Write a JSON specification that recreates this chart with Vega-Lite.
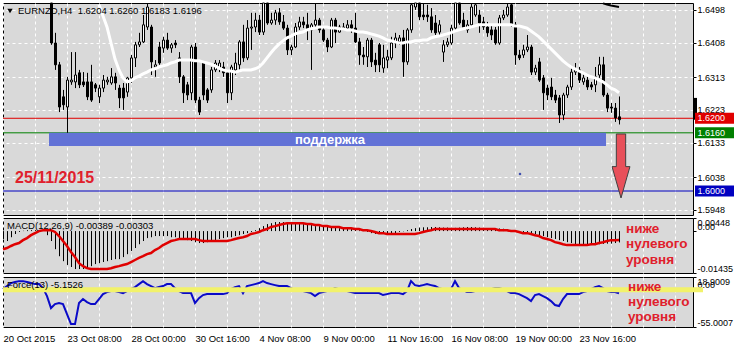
{
"$schema": "https://vega.github.io/schema/vega-lite/v6.json",
"background": "#FFFFFF",
"padding": {"left": -3, "top": -2, "right": 0, "bottom": 0},
"spacing": 1,
"config": {
  "view": {"stroke": "#000000", "strokeWidth": 1, "fill": "#D9D9D9"},
  "text": {"font": "Liberation Sans"}
},
"datasets": {
  "lv": [
    {"label": "1.6200", "price": 1.62},
    {"label": "1.6160", "price": 1.616},
    {"label": "1.6000", "price": 1.6}
  ],
  "d": [
{"i":0,"o":1.6610,"h":1.6650,"l":1.6590,"c":1.6630,"macd":-0.0027,"sig":-0.0062,"force":1.0},
{"i":1,"o":1.6630,"h":1.6660,"l":1.6600,"c":1.6615,"macd":-0.0034,"sig":-0.0058,"force":5.5},
{"i":2,"o":1.6615,"h":1.6690,"l":1.6605,"c":1.6675,"macd":-0.0021,"sig":-0.0051,"force":9.9},
{"i":3,"o":1.6675,"h":1.6700,"l":1.6640,"c":1.6655,"macd":-0.0010,"sig":-0.0045,"force":11.4},
{"i":4,"o":1.6655,"h":1.6710,"l":1.6640,"c":1.6690,"macd":-0.0003,"sig":-0.0041,"force":12.8},
{"i":5,"o":1.6690,"h":1.6720,"l":1.6660,"c":1.6680,"macd":0.0001,"sig":-0.0031,"force":12.8},
{"i":6,"o":1.6680,"h":1.6700,"l":1.6630,"c":1.6645,"macd":0.0003,"sig":-0.0024,"force":11.4},
{"i":7,"o":1.6645,"h":1.6680,"l":1.6620,"c":1.6660,"macd":0.0003,"sig":-0.0014,"force":9.9},
{"i":8,"o":1.6660,"h":1.6690,"l":1.6610,"c":1.6625,"macd":0.0003,"sig":-0.0007,"force":8.4},
{"i":9,"o":1.6625,"h":1.6650,"l":1.6590,"c":1.6610,"macd":0.0003,"sig":0.0000,"force":8.4},
{"i":10,"o":1.6610,"h":1.6630,"l":1.6560,"c":1.6575,"macd":0.0000,"sig":0.0003,"force":2.5},
{"i":11,"o":1.6575,"h":1.6600,"l":1.6540,"c":1.6560,"macd":-0.0014,"sig":0.0003,"force":-9.3},
{"i":12,"o":1.6553,"h":1.6558,"l":1.6402,"c":1.6407,"macd":-0.0034,"sig":0.0003,"force":-27.0},
{"i":13,"o":1.6407,"h":1.6435,"l":1.6333,"c":1.6347,"macd":-0.0062,"sig":-0.0003,"force":-21.1},
{"i":14,"o":1.6347,"h":1.6355,"l":1.6217,"c":1.6231,"macd":-0.0086,"sig":-0.0017,"force":-19.6},
{"i":15,"o":1.6259,"h":1.6278,"l":1.6223,"c":1.6237,"macd":-0.0103,"sig":-0.0034,"force":-21.1},
{"i":16,"o":1.6231,"h":1.6314,"l":1.6160,"c":1.6305,"macd":-0.0116,"sig":-0.0051,"force":-35.9},
{"i":17,"o":1.6300,"h":1.6382,"l":1.6292,"c":1.6305,"macd":-0.0123,"sig":-0.0072,"force":-50.7},
{"i":18,"o":1.6300,"h":1.6382,"l":1.6283,"c":1.6319,"macd":-0.0130,"sig":-0.0089,"force":-50.7},
{"i":19,"o":1.6325,"h":1.6333,"l":1.6283,"c":1.6292,"macd":-0.0130,"sig":-0.0110,"force":-19.6},
{"i":20,"o":1.6300,"h":1.6327,"l":1.6286,"c":1.6292,"ma":1.6608,"macd":-0.0130,"sig":-0.0120,"force":-13.7},
{"i":21,"o":1.6300,"h":1.6325,"l":1.6250,"c":1.6259,"ma":1.6580,"macd":-0.0127,"sig":-0.0127,"force":-18.2},
{"i":22,"o":1.6300,"h":1.6347,"l":1.6245,"c":1.6250,"ma":1.6558,"macd":-0.0120,"sig":-0.0130,"force":-21.1},
{"i":23,"o":1.6292,"h":1.6297,"l":1.6272,"c":1.6283,"ma":1.6539,"macd":-0.0113,"sig":-0.0130,"force":-21.1},
{"i":24,"o":1.6259,"h":1.6292,"l":1.6242,"c":1.6283,"ma":1.6512,"macd":-0.0110,"sig":-0.0130,"force":-13.7},
{"i":25,"o":1.6283,"h":1.6319,"l":1.6272,"c":1.6305,"ma":1.6481,"macd":-0.0106,"sig":-0.0130,"force":-6.4},
{"i":26,"o":1.6300,"h":1.6314,"l":1.6292,"c":1.6305,"ma":1.6451,"macd":-0.0103,"sig":-0.0130,"force":-3.4},
{"i":27,"o":1.6297,"h":1.6338,"l":1.6292,"c":1.6314,"ma":1.6407,"macd":-0.0099,"sig":-0.0127,"force":-1.9},
{"i":28,"o":1.6314,"h":1.6325,"l":1.6278,"c":1.6297,"ma":1.6363,"macd":-0.0096,"sig":-0.0123,"force":-1.9},
{"i":29,"o":1.6283,"h":1.6292,"l":1.6228,"c":1.6256,"ma":1.6333,"macd":-0.0096,"sig":-0.0120,"force":-3.4},
{"i":30,"o":1.6283,"h":1.6297,"l":1.6223,"c":1.6256,"ma":1.6311,"macd":-0.0089,"sig":-0.0116,"force":-4.9},
{"i":31,"o":1.6272,"h":1.6314,"l":1.6259,"c":1.6311,"ma":1.6300,"macd":-0.0079,"sig":-0.0113,"force":-1.9},
{"i":32,"o":1.6311,"h":1.6374,"l":1.6297,"c":1.6366,"ma":1.6303,"macd":-0.0068,"sig":-0.0106,"force":1.0},
{"i":33,"o":1.6366,"h":1.6410,"l":1.6341,"c":1.6402,"ma":1.6311,"macd":-0.0058,"sig":-0.0099,"force":4.0},
{"i":34,"o":1.6402,"h":1.6435,"l":1.6396,"c":1.6410,"ma":1.6316,"macd":-0.0045,"sig":-0.0092,"force":8.4},
{"i":35,"o":1.6410,"h":1.6484,"l":1.6407,"c":1.6457,"ma":1.6322,"macd":-0.0034,"sig":-0.0086,"force":12.8},
{"i":36,"o":1.6451,"h":1.6525,"l":1.6443,"c":1.6506,"ma":1.6327,"macd":-0.0024,"sig":-0.0079,"force":8.4},
{"i":37,"o":1.6451,"h":1.6457,"l":1.6319,"c":1.6355,"ma":1.6333,"macd":-0.0021,"sig":-0.0075,"force":5.5},
{"i":38,"o":1.6341,"h":1.6360,"l":1.6314,"c":1.6347,"ma":1.6336,"macd":-0.0017,"sig":-0.0065,"force":2.5},
{"i":39,"o":1.6396,"h":1.6410,"l":1.6347,"c":1.6352,"ma":1.6341,"macd":-0.0017,"sig":-0.0058,"force":4.0},
{"i":40,"o":1.6393,"h":1.6424,"l":1.6380,"c":1.6415,"ma":1.6344,"macd":-0.0017,"sig":-0.0048,"force":5.5},
{"i":41,"o":1.6415,"h":1.6435,"l":1.6388,"c":1.6393,"ma":1.6347,"macd":-0.0017,"sig":-0.0041,"force":8.4},
{"i":42,"o":1.6393,"h":1.6407,"l":1.6380,"c":1.6402,"ma":1.6352,"macd":-0.0021,"sig":-0.0034,"force":8.4},
{"i":43,"o":1.6407,"h":1.6415,"l":1.6393,"c":1.6402,"ma":1.6355,"macd":-0.0021,"sig":-0.0031,"force":2.5},
{"i":44,"o":1.6366,"h":1.6382,"l":1.6297,"c":1.6314,"ma":1.6360,"macd":-0.0024,"sig":-0.0027,"force":-1.9},
{"i":45,"o":1.6314,"h":1.6319,"l":1.6242,"c":1.6270,"ma":1.6360,"macd":-0.0027,"sig":-0.0027,"force":-4.9},
{"i":46,"o":1.6292,"h":1.6300,"l":1.6250,"c":1.6264,"ma":1.6360,"macd":-0.0031,"sig":-0.0027,"force":-4.9},
{"i":47,"o":1.6270,"h":1.6402,"l":1.6250,"c":1.6396,"ma":1.6360,"macd":-0.0034,"sig":-0.0027,"force":-4.9},
{"i":48,"o":1.6396,"h":1.6407,"l":1.6242,"c":1.6250,"ma":1.6358,"macd":-0.0038,"sig":-0.0027,"force":-19.6},
{"i":49,"o":1.6250,"h":1.6259,"l":1.6209,"c":1.6217,"ma":1.6358,"macd":-0.0041,"sig":-0.0031,"force":-12.3},
{"i":50,"o":1.6352,"h":1.6355,"l":1.6250,"c":1.6264,"ma":1.6355,"macd":-0.0041,"sig":-0.0034,"force":-7.8},
{"i":51,"o":1.6278,"h":1.6283,"l":1.6242,"c":1.6250,"ma":1.6352,"macd":-0.0038,"sig":-0.0034,"force":-6.4},
{"i":52,"o":1.6278,"h":1.6341,"l":1.6270,"c":1.6333,"ma":1.6349,"macd":-0.0034,"sig":-0.0034,"force":-6.4},
{"i":53,"o":1.6333,"h":1.6360,"l":1.6327,"c":1.6352,"ma":1.6344,"macd":-0.0031,"sig":-0.0034,"force":-6.4},
{"i":54,"o":1.6338,"h":1.6360,"l":1.6327,"c":1.6352,"ma":1.6338,"macd":-0.0027,"sig":-0.0034,"force":-6.4},
{"i":55,"o":1.6341,"h":1.6355,"l":1.6314,"c":1.6325,"ma":1.6333,"macd":-0.0024,"sig":-0.0034,"force":-6.4},
{"i":56,"o":1.6325,"h":1.6333,"l":1.6242,"c":1.6270,"ma":1.6330,"macd":-0.0021,"sig":-0.0034,"force":-4.9},
{"i":57,"o":1.6270,"h":1.6347,"l":1.6250,"c":1.6341,"ma":1.6330,"macd":-0.0021,"sig":-0.0031,"force":1.0},
{"i":58,"o":1.6333,"h":1.6380,"l":1.6319,"c":1.6352,"ma":1.6327,"macd":-0.0017,"sig":-0.0027,"force":4.0},
{"i":59,"o":1.6347,"h":1.6415,"l":1.6327,"c":1.6410,"ma":1.6330,"macd":-0.0014,"sig":-0.0024,"force":5.5},
{"i":60,"o":1.6410,"h":1.6457,"l":1.6355,"c":1.6366,"ma":1.6333,"macd":-0.0010,"sig":-0.0021,"force":-4.9},
{"i":61,"o":1.6366,"h":1.6470,"l":1.6360,"c":1.6448,"ma":1.6333,"macd":-0.0007,"sig":-0.0017,"force":5.5},
{"i":62,"o":1.6448,"h":1.6490,"l":1.6388,"c":1.6451,"ma":1.6333,"macd":-0.0003,"sig":-0.0010,"force":6.9},
{"i":63,"o":1.6451,"h":1.6490,"l":1.6437,"c":1.6470,"ma":1.6336,"macd":0.0003,"sig":-0.0007,"force":8.4},
{"i":64,"o":1.6470,"h":1.6484,"l":1.6429,"c":1.6437,"ma":1.6341,"macd":0.0010,"sig":-0.0003,"force":9.9},
{"i":65,"o":1.6437,"h":1.6553,"l":1.6429,"c":1.6539,"ma":1.6352,"macd":0.0017,"sig":0.0003,"force":12.8},
{"i":66,"o":1.6539,"h":1.6553,"l":1.6457,"c":1.6462,"ma":1.6366,"macd":0.0024,"sig":0.0007,"force":9.9},
{"i":67,"o":1.6462,"h":1.6490,"l":1.6457,"c":1.6470,"ma":1.6380,"macd":0.0027,"sig":0.0014,"force":8.4},
{"i":68,"o":1.6470,"h":1.6498,"l":1.6457,"c":1.6490,"ma":1.6393,"macd":0.0031,"sig":0.0017,"force":6.9},
{"i":69,"o":1.6490,"h":1.6503,"l":1.6457,"c":1.6465,"ma":1.6404,"macd":0.0031,"sig":0.0021,"force":5.5},
{"i":70,"o":1.6465,"h":1.6484,"l":1.6443,"c":1.6448,"ma":1.6413,"macd":0.0031,"sig":0.0024,"force":5.5},
{"i":71,"o":1.6448,"h":1.6457,"l":1.6374,"c":1.6388,"ma":1.6421,"macd":0.0027,"sig":0.0027,"force":5.5},
{"i":72,"o":1.6388,"h":1.6402,"l":1.6374,"c":1.6396,"ma":1.6426,"macd":0.0027,"sig":0.0027,"force":2.5},
{"i":73,"o":1.6396,"h":1.6462,"l":1.6393,"c":1.6451,"ma":1.6432,"macd":0.0027,"sig":0.0027,"force":-0.4},
{"i":74,"o":1.6451,"h":1.6479,"l":1.6443,"c":1.6465,"ma":1.6435,"macd":0.0024,"sig":0.0027,"force":-1.9},
{"i":75,"o":1.6465,"h":1.6479,"l":1.6448,"c":1.6457,"ma":1.6437,"macd":0.0024,"sig":0.0027,"force":-1.9},
{"i":76,"o":1.6457,"h":1.6490,"l":1.6415,"c":1.6443,"ma":1.6443,"macd":0.0021,"sig":0.0024,"force":-3.4},
{"i":77,"o":1.6443,"h":1.6462,"l":1.6333,"c":1.6457,"ma":1.6446,"macd":0.0021,"sig":0.0024,"force":-4.9},
{"i":78,"o":1.6457,"h":1.6525,"l":1.6451,"c":1.6470,"ma":1.6448,"macd":0.0017,"sig":0.0021,"force":-9.3},
{"i":79,"o":1.6470,"h":1.6476,"l":1.6435,"c":1.6443,"ma":1.6451,"macd":0.0017,"sig":0.0021,"force":-4.9},
{"i":80,"o":1.6443,"h":1.6451,"l":1.6410,"c":1.6415,"ma":1.6451,"macd":0.0017,"sig":0.0017,"force":-3.4},
{"i":81,"o":1.6415,"h":1.6421,"l":1.6382,"c":1.6396,"ma":1.6451,"macd":0.0014,"sig":0.0017,"force":-1.9},
{"i":82,"o":1.6396,"h":1.6476,"l":1.6393,"c":1.6470,"ma":1.6448,"macd":0.0014,"sig":0.0014,"force":-0.4},
{"i":83,"o":1.6470,"h":1.6476,"l":1.6407,"c":1.6437,"ma":1.6448,"macd":0.0014,"sig":0.0014,"force":2.5},
{"i":84,"o":1.6437,"h":1.6457,"l":1.6435,"c":1.6451,"ma":1.6446,"macd":0.0010,"sig":0.0014,"force":1.0},
{"i":85,"o":1.6451,"h":1.6462,"l":1.6443,"c":1.6448,"ma":1.6446,"macd":0.0010,"sig":0.0010,"force":-0.4},
{"i":86,"o":1.6448,"h":1.6470,"l":1.6443,"c":1.6457,"ma":1.6443,"macd":0.0010,"sig":0.0010,"force":-1.9},
{"i":87,"o":1.6457,"h":1.6470,"l":1.6435,"c":1.6448,"ma":1.6443,"macd":0.0007,"sig":0.0010,"force":-3.4},
{"i":88,"o":1.6448,"h":1.6490,"l":1.6407,"c":1.6410,"ma":1.6440,"macd":0.0007,"sig":0.0007,"force":-4.9},
{"i":89,"o":1.6410,"h":1.6421,"l":1.6347,"c":1.6374,"ma":1.6437,"macd":0.0003,"sig":0.0007,"force":-4.9},
{"i":90,"o":1.6374,"h":1.6396,"l":1.6347,"c":1.6369,"ma":1.6437,"macd":0.0003,"sig":0.0003,"force":-4.9},
{"i":91,"o":1.6369,"h":1.6421,"l":1.6341,"c":1.6415,"ma":1.6435,"macd":-0.0003,"sig":0.0003,"force":-4.9},
{"i":92,"o":1.6415,"h":1.6421,"l":1.6341,"c":1.6355,"ma":1.6432,"macd":-0.0007,"sig":0.0000,"force":-4.9},
{"i":93,"o":1.6360,"h":1.6380,"l":1.6327,"c":1.6347,"ma":1.6429,"macd":-0.0010,"sig":-0.0003,"force":-4.9},
{"i":94,"o":1.6402,"h":1.6407,"l":1.6327,"c":1.6347,"ma":1.6426,"macd":-0.0010,"sig":-0.0007,"force":-4.9},
{"i":95,"o":1.6338,"h":1.6402,"l":1.6325,"c":1.6366,"ma":1.6421,"macd":-0.0010,"sig":-0.0007,"force":-7.8},
{"i":96,"o":1.6360,"h":1.6388,"l":1.6338,"c":1.6369,"ma":1.6415,"macd":-0.0010,"sig":-0.0010,"force":-6.4},
{"i":97,"o":1.6366,"h":1.6424,"l":1.6360,"c":1.6407,"ma":1.6413,"macd":-0.0010,"sig":-0.0010,"force":-4.9},
{"i":98,"o":1.6407,"h":1.6435,"l":1.6393,"c":1.6421,"ma":1.6410,"macd":-0.0007,"sig":-0.0010,"force":-4.9},
{"i":99,"o":1.6410,"h":1.6429,"l":1.6402,"c":1.6421,"ma":1.6407,"macd":-0.0003,"sig":-0.0010,"force":-4.9},
{"i":100,"o":1.6421,"h":1.6443,"l":1.6314,"c":1.6355,"ma":1.6407,"macd":-0.0001,"sig":-0.0010,"force":-6.4},
{"i":101,"o":1.6355,"h":1.6448,"l":1.6347,"c":1.6443,"ma":1.6410,"macd":0.0003,"sig":-0.0010,"force":-1.9},
{"i":102,"o":1.6443,"h":1.6525,"l":1.6435,"c":1.6512,"ma":1.6410,"macd":0.0007,"sig":-0.0010,"force":12.8},
{"i":103,"o":1.6506,"h":1.6547,"l":1.6498,"c":1.6517,"ma":1.6413,"macd":0.0010,"sig":-0.0010,"force":6.9},
{"i":104,"o":1.6517,"h":1.6539,"l":1.6470,"c":1.6479,"ma":1.6413,"macd":0.0012,"sig":-0.0007,"force":5.5},
{"i":105,"o":1.6484,"h":1.6517,"l":1.6470,"c":1.6479,"ma":1.6415,"macd":0.0013,"sig":-0.0003,"force":6.9},
{"i":106,"o":1.6484,"h":1.6512,"l":1.6465,"c":1.6479,"ma":1.6415,"macd":0.0013,"sig":0.0000,"force":8.4},
{"i":107,"o":1.6479,"h":1.6503,"l":1.6435,"c":1.6443,"ma":1.6421,"macd":0.0014,"sig":0.0003,"force":6.9},
{"i":108,"o":1.6462,"h":1.6484,"l":1.6429,"c":1.6435,"ma":1.6424,"macd":0.0014,"sig":0.0007,"force":5.5},
{"i":109,"o":1.6437,"h":1.6470,"l":1.6429,"c":1.6457,"ma":1.6426,"macd":0.0013,"sig":0.0007,"force":2.5},
{"i":110,"o":1.6382,"h":1.6415,"l":1.6355,"c":1.6402,"ma":1.6429,"macd":0.0012,"sig":0.0007,"force":1.0},
{"i":111,"o":1.6402,"h":1.6421,"l":1.6396,"c":1.6410,"ma":1.6432,"macd":0.0012,"sig":0.0007,"force":-0.4},
{"i":112,"o":1.6407,"h":1.6457,"l":1.6402,"c":1.6448,"ma":1.6435,"macd":0.0011,"sig":0.0007,"force":1.0},
{"i":113,"o":1.6448,"h":1.6539,"l":1.6443,"c":1.6517,"ma":1.6440,"macd":0.0011,"sig":0.0007,"force":12.8},
{"i":114,"o":1.6517,"h":1.6539,"l":1.6457,"c":1.6462,"ma":1.6443,"macd":0.0012,"sig":0.0007,"force":2.5},
{"i":115,"o":1.6470,"h":1.6490,"l":1.6443,"c":1.6448,"ma":1.6446,"macd":0.0013,"sig":0.0007,"force":-0.4},
{"i":116,"o":1.6443,"h":1.6470,"l":1.6435,"c":1.6457,"ma":1.6448,"macd":0.0014,"sig":0.0007,"force":-3.4},
{"i":117,"o":1.6457,"h":1.6517,"l":1.6448,"c":1.6506,"ma":1.6451,"macd":0.0014,"sig":0.0007,"force":-3.4},
{"i":118,"o":1.6484,"h":1.6525,"l":1.6479,"c":1.6512,"ma":1.6454,"macd":0.0013,"sig":0.0007,"force":-1.9},
{"i":119,"o":1.6484,"h":1.6498,"l":1.6435,"c":1.6462,"ma":1.6457,"macd":0.0012,"sig":0.0007,"force":-0.4},
{"i":120,"o":1.6465,"h":1.6479,"l":1.6443,"c":1.6451,"ma":1.6457,"macd":0.0011,"sig":0.0007,"force":-0.4},
{"i":121,"o":1.6451,"h":1.6465,"l":1.6424,"c":1.6435,"ma":1.6457,"macd":0.0010,"sig":0.0007,"force":1.0},
{"i":122,"o":1.6443,"h":1.6457,"l":1.6415,"c":1.6429,"ma":1.6457,"macd":0.0010,"sig":0.0007,"force":1.0},
{"i":123,"o":1.6443,"h":1.6451,"l":1.6402,"c":1.6407,"ma":1.6457,"macd":0.0009,"sig":0.0007,"force":2.5},
{"i":124,"o":1.6407,"h":1.6484,"l":1.6402,"c":1.6476,"ma":1.6457,"macd":0.0009,"sig":0.0003,"force":2.5},
{"i":125,"o":1.6476,"h":1.6498,"l":1.6470,"c":1.6484,"ma":1.6457,"macd":0.0008,"sig":0.0003,"force":1.0},
{"i":126,"o":1.6484,"h":1.6517,"l":1.6479,"c":1.6506,"ma":1.6457,"macd":0.0006,"sig":0.0003,"force":-1.9},
{"i":127,"o":1.6512,"h":1.6520,"l":1.6451,"c":1.6457,"ma":1.6457,"macd":0.0003,"sig":0.0000,"force":-4.9},
{"i":128,"o":1.6457,"h":1.6465,"l":1.6347,"c":1.6374,"ma":1.6454,"macd":0.0000,"sig":0.0000,"force":-4.9},
{"i":129,"o":1.6374,"h":1.6388,"l":1.6360,"c":1.6366,"ma":1.6454,"macd":-0.0003,"sig":-0.0003,"force":-6.4},
{"i":130,"o":1.6374,"h":1.6402,"l":1.6366,"c":1.6388,"ma":1.6451,"macd":-0.0004,"sig":-0.0007,"force":-9.3},
{"i":131,"o":1.6388,"h":1.6429,"l":1.6382,"c":1.6396,"ma":1.6448,"macd":-0.0004,"sig":-0.0007,"force":-12.3},
{"i":132,"o":1.6396,"h":1.6402,"l":1.6319,"c":1.6327,"ma":1.6440,"macd":-0.0007,"sig":-0.0010,"force":-16.7},
{"i":133,"o":1.6327,"h":1.6347,"l":1.6319,"c":1.6338,"ma":1.6432,"macd":-0.0010,"sig":-0.0014,"force":-7.8},
{"i":134,"o":1.6355,"h":1.6366,"l":1.6300,"c":1.6305,"ma":1.6424,"macd":-0.0014,"sig":-0.0017,"force":-6.4},
{"i":135,"o":1.6311,"h":1.6319,"l":1.6223,"c":1.6270,"ma":1.6413,"macd":-0.0017,"sig":-0.0024,"force":-9.3},
{"i":136,"o":1.6283,"h":1.6292,"l":1.6250,"c":1.6264,"ma":1.6402,"macd":-0.0021,"sig":-0.0027,"force":-12.3},
{"i":137,"o":1.6286,"h":1.6311,"l":1.6250,"c":1.6259,"ma":1.6391,"macd":-0.0024,"sig":-0.0031,"force":-16.7},
{"i":138,"o":1.6264,"h":1.6278,"l":1.6242,"c":1.6250,"ma":1.6380,"macd":-0.0027,"sig":-0.0038,"force":-22.6},
{"i":139,"o":1.6256,"h":1.6264,"l":1.6187,"c":1.6209,"ma":1.6369,"macd":-0.0031,"sig":-0.0041,"force":-24.1},
{"i":140,"o":1.6209,"h":1.6270,"l":1.6195,"c":1.6264,"ma":1.6358,"macd":-0.0034,"sig":-0.0045,"force":-13.7},
{"i":141,"o":1.6264,"h":1.6292,"l":1.6256,"c":1.6286,"ma":1.6349,"macd":-0.0038,"sig":-0.0048,"force":-6.4},
{"i":142,"o":1.6286,"h":1.6341,"l":1.6278,"c":1.6327,"ma":1.6341,"macd":-0.0041,"sig":-0.0048,"force":-6.4},
{"i":143,"o":1.6327,"h":1.6352,"l":1.6319,"c":1.6333,"ma":1.6336,"macd":-0.0045,"sig":-0.0048,"force":-6.4},
{"i":144,"o":1.6333,"h":1.6341,"l":1.6297,"c":1.6305,"ma":1.6330,"macd":-0.0045,"sig":-0.0048,"force":-6.4},
{"i":145,"o":1.6300,"h":1.6325,"l":1.6292,"c":1.6311,"ma":1.6325,"macd":-0.0048,"sig":-0.0048,"force":-3.4},
{"i":146,"o":1.6305,"h":1.6314,"l":1.6278,"c":1.6286,"ma":1.6319,"macd":-0.0048,"sig":-0.0048,"force":-1.9},
{"i":147,"o":1.6292,"h":1.6300,"l":1.6278,"c":1.6286,"ma":1.6314,"macd":-0.0048,"sig":-0.0045,"force":1.0},
{"i":148,"o":1.6292,"h":1.6341,"l":1.6272,"c":1.6314,"ma":1.6311,"macd":-0.0048,"sig":-0.0045,"force":4.0},
{"i":149,"o":1.6319,"h":1.6369,"l":1.6311,"c":1.6347,"ma":1.6305,"macd":-0.0045,"sig":-0.0041,"force":5.5},
{"i":150,"o":1.6347,"h":1.6369,"l":1.6259,"c":1.6264,"ma":1.6300,"ma2":1.6516,"macd":-0.0044,"sig":-0.0038,"force":2.5},
{"i":151,"o":1.6264,"h":1.6270,"l":1.6217,"c":1.6228,"ma":1.6292,"ma2":1.6513,"macd":-0.0043,"sig":-0.0034,"force":-1.9},
{"i":152,"o":1.6231,"h":1.6242,"l":1.6215,"c":1.6228,"ma":1.6283,"ma2":1.6510,"macd":-0.0043,"sig":-0.0031,"force":-3.4},
{"i":153,"o":1.6228,"h":1.6242,"l":1.6190,"c":1.6201,"ma":1.6278,"ma2":1.6508,"macd":-0.0041,"sig":-0.0031,"force":-3.4},
{"i":154,"o":1.6204,"h":1.6260,"l":1.6183,"c":1.6196,"ma":1.6270,"ma2":1.6506,"macd":-0.00389,"sig":-0.00303,"force":-5.1526}
  ]
},
"vconcat": [
{
  "width": 690, "height": 212,
  "layer": [
    {"data": {"name": "lv"}, "mark": {"type": "rule", "strokeWidth": 1},
     "encoding": {
       "y": {"field": "price", "type": "quantitative", "title": null, "scale": {"domain": [1.5934, 1.6517], "nice": false, "zero": false, "padding": 0, "clamp": true},
             "axis": {"orient": "right", "values": [1.6498, 1.6408, 1.6313, 1.6223, 1.6133, 1.6038, 1.5948], "format": ".4f", "grid": true, "gridColor": "#FFFFFF", "gridDash": [3, 3], "domain": false, "tickSize": 3, "tickColor": "#000000", "labelPadding": 1, "labelFont": "Liberation Sans", "labelFontSize": 9, "labelColor": "#000000", "title": null}},
       "color": {"field": "label", "type": "nominal", "scale": {"domain": ["1.6200", "1.6160", "1.6000"], "range": ["#E00000", "#008000", "#0000C0"]}, "legend": null}}},
    {"data": {"values": [{"t": "zone"}]}, "mark": {"type": "rect", "color": "#6272D6"},
     "encoding": {
       "x": {"datum": 11.5, "type": "quantitative", "title": null, "scale": {"domain": [0, 172.5], "nice": false, "zero": false, "padding": 0},
             "axis": {"values": [0,8,16,24,32,40,48,56,64,72,80,88,96,104,112,120,128,136,144,152,160,168], "grid": true, "gridColor": "#FFFFFF", "gridDash": [3, 3], "labels": false, "ticks": false, "domain": false, "minExtent": 0, "maxExtent": 0, "title": null}},
       "x2": {"datum": 150.75},
       "y": {"datum": 1.6160, "type": "quantitative", "title": null, "scale": {"domain": [1.5934, 1.6517], "nice": false, "zero": false, "padding": 0, "clamp": true},
             "axis": {"orient": "right", "values": [1.6498, 1.6408, 1.6313, 1.6223, 1.6133, 1.6038, 1.5948], "format": ".4f", "grid": true, "gridColor": "#FFFFFF", "gridDash": [3, 3], "domain": false, "tickSize": 3, "tickColor": "#000000", "labelPadding": 1, "labelFont": "Liberation Sans", "labelFontSize": 9, "labelColor": "#000000", "title": null}},
       "y2": {"datum": 1.6124}}},
    {"data": {"name": "d"}, "transform": [{"filter": "datum.l < 1.6517"}],
     "mark": {"type": "rule", "color": "#000000", "strokeWidth": 1, "xOffset": 0.5},
     "encoding": {
       "x": {"field": "i", "type": "quantitative", "title": null, "scale": {"domain": [0, 172.5], "nice": false, "zero": false, "padding": 0},
             "axis": {"values": [0,8,16,24,32,40,48,56,64,72,80,88,96,104,112,120,128,136,144,152,160,168], "grid": true, "gridColor": "#FFFFFF", "gridDash": [3, 3], "labels": false, "ticks": false, "domain": false, "minExtent": 0, "maxExtent": 0, "title": null}},
       "y": {"field": "l", "type": "quantitative", "title": null, "scale": {"domain": [1.5934, 1.6517], "nice": false, "zero": false, "padding": 0, "clamp": true},
             "axis": {"orient": "right", "values": [1.6498, 1.6408, 1.6313, 1.6223, 1.6133, 1.6038, 1.5948], "format": ".4f", "grid": true, "gridColor": "#FFFFFF", "gridDash": [3, 3], "domain": false, "tickSize": 3, "tickColor": "#000000", "labelPadding": 1, "labelFont": "Liberation Sans", "labelFontSize": 9, "labelColor": "#000000", "title": null}},
       "y2": {"field": "h"}}},
    {"data": {"name": "d"}, "transform": [{"filter": "datum.l < 1.6517"}],
     "mark": {"type": "bar", "size": 2, "stroke": "#000000", "strokeWidth": 1, "xOffset": 0.5},
     "encoding": {
       "x": {"field": "i", "type": "quantitative", "title": null, "scale": {"domain": [0, 172.5], "nice": false, "zero": false, "padding": 0},
             "axis": {"values": [0,8,16,24,32,40,48,56,64,72,80,88,96,104,112,120,128,136,144,152,160,168], "grid": true, "gridColor": "#FFFFFF", "gridDash": [3, 3], "labels": false, "ticks": false, "domain": false, "minExtent": 0, "maxExtent": 0, "title": null}},
       "y": {"field": "o", "type": "quantitative", "title": null, "scale": {"domain": [1.5934, 1.6517], "nice": false, "zero": false, "padding": 0, "clamp": true},
             "axis": {"orient": "right", "values": [1.6498, 1.6408, 1.6313, 1.6223, 1.6133, 1.6038, 1.5948], "format": ".4f", "grid": true, "gridColor": "#FFFFFF", "gridDash": [3, 3], "domain": false, "tickSize": 3, "tickColor": "#000000", "labelPadding": 1, "labelFont": "Liberation Sans", "labelFontSize": 9, "labelColor": "#000000", "title": null}},
       "y2": {"field": "c"},
       "fill": {"condition": {"test": "datum.c >= datum.o", "value": "#FFFFFF"}, "value": "#000000"}}},
    {"data": {"name": "d"}, "transform": [{"filter": "isValid(datum.ma) && datum.ma <= 1.6517"}],
     "mark": {"type": "line", "color": "#FFFFFF", "strokeWidth": 3},
     "encoding": {
       "x": {"field": "i", "type": "quantitative", "title": null, "scale": {"domain": [0, 172.5], "nice": false, "zero": false, "padding": 0},
             "axis": {"values": [0,8,16,24,32,40,48,56,64,72,80,88,96,104,112,120,128,136,144,152,160,168], "grid": true, "gridColor": "#FFFFFF", "gridDash": [3, 3], "labels": false, "ticks": false, "domain": false, "minExtent": 0, "maxExtent": 0, "title": null}},
       "y": {"field": "ma", "type": "quantitative", "title": null, "scale": {"domain": [1.5934, 1.6517], "nice": false, "zero": false, "padding": 0, "clamp": true},
             "axis": {"orient": "right", "values": [1.6498, 1.6408, 1.6313, 1.6223, 1.6133, 1.6038, 1.5948], "format": ".4f", "grid": true, "gridColor": "#FFFFFF", "gridDash": [3, 3], "domain": false, "tickSize": 3, "tickColor": "#000000", "labelPadding": 1, "labelFont": "Liberation Sans", "labelFontSize": 9, "labelColor": "#000000", "title": null}}}},
    {"data": {"name": "d"}, "transform": [{"filter": "isValid(datum.ma2)"}],
     "mark": {"type": "line", "color": "#000000", "strokeWidth": 2},
     "encoding": {
       "x": {"field": "i", "type": "quantitative", "title": null, "scale": {"domain": [0, 172.5], "nice": false, "zero": false, "padding": 0},
             "axis": {"values": [0,8,16,24,32,40,48,56,64,72,80,88,96,104,112,120,128,136,144,152,160,168], "grid": true, "gridColor": "#FFFFFF", "gridDash": [3, 3], "labels": false, "ticks": false, "domain": false, "minExtent": 0, "maxExtent": 0, "title": null}},
       "y": {"field": "ma2", "type": "quantitative", "title": null, "scale": {"domain": [1.5934, 1.6517], "nice": false, "zero": false, "padding": 0, "clamp": true},
             "axis": {"orient": "right", "values": [1.6498, 1.6408, 1.6313, 1.6223, 1.6133, 1.6038, 1.5948], "format": ".4f", "grid": true, "gridColor": "#FFFFFF", "gridDash": [3, 3], "domain": false, "tickSize": 3, "tickColor": "#000000", "labelPadding": 1, "labelFont": "Liberation Sans", "labelFontSize": 9, "labelColor": "#000000", "title": null}}}},
    {"data": {"values": [{"t": "поддержка"}]}, "mark": {"type": "text", "color": "#FFFFFF", "fontWeight": "bold", "fontSize": 13, "align": "center", "baseline": "middle"},
     "encoding": {
       "x": {"datum": 81.75, "type": "quantitative", "title": null, "scale": {"domain": [0, 172.5], "nice": false, "zero": false, "padding": 0},
             "axis": {"values": [0,8,16,24,32,40,48,56,64,72,80,88,96,104,112,120,128,136,144,152,160,168], "grid": true, "gridColor": "#FFFFFF", "gridDash": [3, 3], "labels": false, "ticks": false, "domain": false, "minExtent": 0, "maxExtent": 0, "title": null}},
       "y": {"datum": 1.6140, "type": "quantitative", "title": null, "scale": {"domain": [1.5934, 1.6517], "nice": false, "zero": false, "padding": 0, "clamp": true},
             "axis": {"orient": "right", "values": [1.6498, 1.6408, 1.6313, 1.6223, 1.6133, 1.6038, 1.5948], "format": ".4f", "grid": true, "gridColor": "#FFFFFF", "gridDash": [3, 3], "domain": false, "tickSize": 3, "tickColor": "#000000", "labelPadding": 1, "labelFont": "Liberation Sans", "labelFontSize": 9, "labelColor": "#000000", "title": null}},
       "text": {"field": "t"}}},
    {"data": {"values": [{"t": "25/11/2015"}]}, "mark": {"type": "text", "color": "#E0202C", "fontWeight": "bold", "fontSize": 16, "align": "left", "baseline": "middle"},
     "encoding": {
       "x": {"datum": 3, "type": "quantitative", "title": null, "scale": {"domain": [0, 172.5], "nice": false, "zero": false, "padding": 0},
             "axis": {"values": [0,8,16,24,32,40,48,56,64,72,80,88,96,104,112,120,128,136,144,152,160,168], "grid": true, "gridColor": "#FFFFFF", "gridDash": [3, 3], "labels": false, "ticks": false, "domain": false, "minExtent": 0, "maxExtent": 0, "title": null}},
       "y": {"datum": 1.6036, "type": "quantitative", "title": null, "scale": {"domain": [1.5934, 1.6517], "nice": false, "zero": false, "padding": 0, "clamp": true},
             "axis": {"orient": "right", "values": [1.6498, 1.6408, 1.6313, 1.6223, 1.6133, 1.6038, 1.5948], "format": ".4f", "grid": true, "gridColor": "#FFFFFF", "gridDash": [3, 3], "domain": false, "tickSize": 3, "tickColor": "#000000", "labelPadding": 1, "labelFont": "Liberation Sans", "labelFontSize": 9, "labelColor": "#000000", "title": null}},
       "text": {"field": "t"}}},
    {"data": {"values": [{"t": "menu"}]}, "mark": {"type": "point", "shape": "triangle-down", "size": 28, "filled": true, "color": "#000000", "opacity": 1},
     "encoding": {
       "x": {"datum": 1.75, "type": "quantitative", "title": null, "scale": {"domain": [0, 172.5], "nice": false, "zero": false, "padding": 0},
             "axis": {"values": [0,8,16,24,32,40,48,56,64,72,80,88,96,104,112,120,128,136,144,152,160,168], "grid": true, "gridColor": "#FFFFFF", "gridDash": [3, 3], "labels": false, "ticks": false, "domain": false, "minExtent": 0, "maxExtent": 0, "title": null}},
       "y": {"datum": 1.6495, "type": "quantitative", "title": null, "scale": {"domain": [1.5934, 1.6517], "nice": false, "zero": false, "padding": 0, "clamp": true},
             "axis": {"orient": "right", "values": [1.6498, 1.6408, 1.6313, 1.6223, 1.6133, 1.6038, 1.5948], "format": ".4f", "grid": true, "gridColor": "#FFFFFF", "gridDash": [3, 3], "domain": false, "tickSize": 3, "tickColor": "#000000", "labelPadding": 1, "labelFont": "Liberation Sans", "labelFontSize": 9, "labelColor": "#000000", "title": null}}}},
    {"data": {"values": [{"t": "EURNZD,H4\u00a0 1.6204 1.6260 1.6183 1.6196"}]}, "mark": {"type": "text", "color": "#000000", "fontSize": 9.5, "align": "left", "baseline": "middle"},
     "encoding": {
       "x": {"datum": 3.75, "type": "quantitative", "title": null, "scale": {"domain": [0, 172.5], "nice": false, "zero": false, "padding": 0},
             "axis": {"values": [0,8,16,24,32,40,48,56,64,72,80,88,96,104,112,120,128,136,144,152,160,168], "grid": true, "gridColor": "#FFFFFF", "gridDash": [3, 3], "labels": false, "ticks": false, "domain": false, "minExtent": 0, "maxExtent": 0, "title": null}},
       "y": {"datum": 1.6495, "type": "quantitative", "title": null, "scale": {"domain": [1.5934, 1.6517], "nice": false, "zero": false, "padding": 0, "clamp": true},
             "axis": {"orient": "right", "values": [1.6498, 1.6408, 1.6313, 1.6223, 1.6133, 1.6038, 1.5948], "format": ".4f", "grid": true, "gridColor": "#FFFFFF", "gridDash": [3, 3], "domain": false, "tickSize": 3, "tickColor": "#000000", "labelPadding": 1, "labelFont": "Liberation Sans", "labelFontSize": 9, "labelColor": "#000000", "title": null}},
       "text": {"field": "t"}}},
    {"data": {"values": [{"t": "arrow"}]}, "mark": {"type": "point", "shape": "M -0.146 -1 L 0.146 -1 L 0.146 0.02 L 0.28 0.02 L 0 1 L -0.28 0.02 L -0.146 0.02 Z", "size": 4096, "filled": true, "fill": "#E8505A", "stroke": "#404040", "strokeWidth": 1, "opacity": 1},
     "encoding": {
       "x": {"datum": 154.5, "type": "quantitative", "title": null, "scale": {"domain": [0, 172.5], "nice": false, "zero": false, "padding": 0},
             "axis": {"values": [0,8,16,24,32,40,48,56,64,72,80,88,96,104,112,120,128,136,144,152,160,168], "grid": true, "gridColor": "#FFFFFF", "gridDash": [3, 3], "labels": false, "ticks": false, "domain": false, "minExtent": 0, "maxExtent": 0, "title": null}},
       "y": {"datum": 1.60688, "type": "quantitative", "title": null, "scale": {"domain": [1.5934, 1.6517], "nice": false, "zero": false, "padding": 0, "clamp": true},
             "axis": {"orient": "right", "values": [1.6498, 1.6408, 1.6313, 1.6223, 1.6133, 1.6038, 1.5948], "format": ".4f", "grid": true, "gridColor": "#FFFFFF", "gridDash": [3, 3], "domain": false, "tickSize": 3, "tickColor": "#000000", "labelPadding": 1, "labelFont": "Liberation Sans", "labelFontSize": 9, "labelColor": "#000000", "title": null}}}},
    {"data": {"values": [{"t": "dot"}]}, "mark": {"type": "point", "shape": "square", "size": 5, "filled": true, "color": "#4050B0", "opacity": 1},
     "encoding": {
       "x": {"datum": 129.25, "type": "quantitative", "title": null, "scale": {"domain": [0, 172.5], "nice": false, "zero": false, "padding": 0},
             "axis": {"values": [0,8,16,24,32,40,48,56,64,72,80,88,96,104,112,120,128,136,144,152,160,168], "grid": true, "gridColor": "#FFFFFF", "gridDash": [3, 3], "labels": false, "ticks": false, "domain": false, "minExtent": 0, "maxExtent": 0, "title": null}},
       "y": {"datum": 1.60468, "type": "quantitative", "title": null, "scale": {"domain": [1.5934, 1.6517], "nice": false, "zero": false, "padding": 0, "clamp": true},
             "axis": {"orient": "right", "values": [1.6498, 1.6408, 1.6313, 1.6223, 1.6133, 1.6038, 1.5948], "format": ".4f", "grid": true, "gridColor": "#FFFFFF", "gridDash": [3, 3], "domain": false, "tickSize": 3, "tickColor": "#000000", "labelPadding": 1, "labelFont": "Liberation Sans", "labelFontSize": 9, "labelColor": "#000000", "title": null}}}},
    {"data": {"values": [{"t": "marker"}]}, "mark": {"type": "rule", "color": "#000000", "strokeWidth": 4},
     "encoding": {
       "x": {"datum": 173, "type": "quantitative", "title": null, "scale": {"domain": [0, 172.5], "nice": false, "zero": false, "padding": 0},
             "axis": {"values": [0,8,16,24,32,40,48,56,64,72,80,88,96,104,112,120,128,136,144,152,160,168], "grid": true, "gridColor": "#FFFFFF", "gridDash": [3, 3], "labels": false, "ticks": false, "domain": false, "minExtent": 0, "maxExtent": 0, "title": null}},
       "y": {"datum": 1.6256, "type": "quantitative", "title": null, "scale": {"domain": [1.5934, 1.6517], "nice": false, "zero": false, "padding": 0, "clamp": true},
             "axis": {"orient": "right", "values": [1.6498, 1.6408, 1.6313, 1.6223, 1.6133, 1.6038, 1.5948], "format": ".4f", "grid": true, "gridColor": "#FFFFFF", "gridDash": [3, 3], "domain": false, "tickSize": 3, "tickColor": "#000000", "labelPadding": 1, "labelFont": "Liberation Sans", "labelFontSize": 9, "labelColor": "#000000", "title": null}},
       "y2": {"datum": 1.6196}}},
    {"data": {"name": "lv"}, "mark": {"type": "rule", "strokeWidth": 11, "strokeCap": "butt"},
     "encoding": {
       "x": {"datum": 173, "type": "quantitative", "title": null, "scale": {"domain": [0, 172.5], "nice": false, "zero": false, "padding": 0},
             "axis": {"values": [0,8,16,24,32,40,48,56,64,72,80,88,96,104,112,120,128,136,144,152,160,168], "grid": true, "gridColor": "#FFFFFF", "gridDash": [3, 3], "labels": false, "ticks": false, "domain": false, "minExtent": 0, "maxExtent": 0, "title": null}},
       "x2": {"datum": 182.75},
       "y": {"field": "price", "type": "quantitative", "title": null, "scale": {"domain": [1.5934, 1.6517], "nice": false, "zero": false, "padding": 0, "clamp": true},
             "axis": {"orient": "right", "values": [1.6498, 1.6408, 1.6313, 1.6223, 1.6133, 1.6038, 1.5948], "format": ".4f", "grid": true, "gridColor": "#FFFFFF", "gridDash": [3, 3], "domain": false, "tickSize": 3, "tickColor": "#000000", "labelPadding": 1, "labelFont": "Liberation Sans", "labelFontSize": 9, "labelColor": "#000000", "title": null}},
       "color": {"field": "label", "type": "nominal", "legend": null}}},
    {"data": {"name": "lv"}, "mark": {"type": "text", "color": "#FFFFFF", "fontSize": 9, "align": "left", "baseline": "middle"},
     "encoding": {
       "x": {"datum": 173.6, "type": "quantitative", "title": null, "scale": {"domain": [0, 172.5], "nice": false, "zero": false, "padding": 0},
             "axis": {"values": [0,8,16,24,32,40,48,56,64,72,80,88,96,104,112,120,128,136,144,152,160,168], "grid": true, "gridColor": "#FFFFFF", "gridDash": [3, 3], "labels": false, "ticks": false, "domain": false, "minExtent": 0, "maxExtent": 0, "title": null}},
       "y": {"field": "price", "type": "quantitative", "title": null, "scale": {"domain": [1.5934, 1.6517], "nice": false, "zero": false, "padding": 0, "clamp": true},
             "axis": {"orient": "right", "values": [1.6498, 1.6408, 1.6313, 1.6223, 1.6133, 1.6038, 1.5948], "format": ".4f", "grid": true, "gridColor": "#FFFFFF", "gridDash": [3, 3], "domain": false, "tickSize": 3, "tickColor": "#000000", "labelPadding": 1, "labelFont": "Liberation Sans", "labelFontSize": 9, "labelColor": "#000000", "title": null}},
       "text": {"field": "label"}}}
  ]
},
{
  "width": 690, "height": 55,
  "layer": [
    {"data": {"name": "d"}, "mark": {"type": "rule", "color": "#000000", "strokeWidth": 1, "xOffset": 0.5},
     "encoding": {
       "x": {"field": "i", "type": "quantitative", "title": null, "scale": {"domain": [0, 172.5], "nice": false, "zero": false, "padding": 0},
             "axis": {"values": [0,8,16,24,32,40,48,56,64,72,80,88,96,104,112,120,128,136,144,152,160,168], "grid": true, "gridColor": "#FFFFFF", "gridDash": [3, 3], "labels": false, "ticks": false, "domain": false, "minExtent": 0, "maxExtent": 0, "title": null}},
       "y": {"field": "macd", "type": "quantitative", "title": null, "scale": {"domain": [-0.01435, 0.00448], "nice": false, "zero": false, "padding": 0},
             "axis": {"orient": "right", "values": [0.00448, 0, -0.01435], "labelExpr": "datum.value > 0.001 ? '0.00448' : (datum.value < -0.001 ? '-0.01435' : '0.00')", "labelBaseline": {"condition": {"test": "datum.value > 0.001", "value": "top"}, "value": "bottom"}, "labelOverlap": false, "grid": false, "domain": false, "tickSize": 3, "tickColor": "#000000", "labelPadding": 1, "labelFont": "Liberation Sans", "labelFontSize": 9, "labelColor": "#000000", "title": null}},
       "y2": {"datum": 0}}},
    {"data": {"name": "d"}, "mark": {"type": "line", "color": "#E00000", "strokeWidth": 2.5},
     "encoding": {
       "x": {"field": "i", "type": "quantitative", "title": null, "scale": {"domain": [0, 172.5], "nice": false, "zero": false, "padding": 0},
             "axis": {"values": [0,8,16,24,32,40,48,56,64,72,80,88,96,104,112,120,128,136,144,152,160,168], "grid": true, "gridColor": "#FFFFFF", "gridDash": [3, 3], "labels": false, "ticks": false, "domain": false, "minExtent": 0, "maxExtent": 0, "title": null}},
       "y": {"field": "sig", "type": "quantitative", "title": null, "scale": {"domain": [-0.01435, 0.00448], "nice": false, "zero": false, "padding": 0},
             "axis": {"orient": "right", "values": [0.00448, 0, -0.01435], "labelExpr": "datum.value > 0.001 ? '0.00448' : (datum.value < -0.001 ? '-0.01435' : '0.00')", "labelBaseline": {"condition": {"test": "datum.value > 0.001", "value": "top"}, "value": "bottom"}, "labelOverlap": false, "grid": false, "domain": false, "tickSize": 3, "tickColor": "#000000", "labelPadding": 1, "labelFont": "Liberation Sans", "labelFontSize": 9, "labelColor": "#000000", "title": null}}}},
    {"data": {"values": [{"t": "MACD(12,26,9) -0.00389 -0.00303"}]}, "mark": {"type": "text", "color": "#000000", "fontSize": 9.5, "align": "left", "baseline": "middle"},
     "encoding": {
       "x": {"datum": 1, "type": "quantitative", "title": null, "scale": {"domain": [0, 172.5], "nice": false, "zero": false, "padding": 0},
             "axis": {"values": [0,8,16,24,32,40,48,56,64,72,80,88,96,104,112,120,128,136,144,152,160,168], "grid": true, "gridColor": "#FFFFFF", "gridDash": [3, 3], "labels": false, "ticks": false, "domain": false, "minExtent": 0, "maxExtent": 0, "title": null}},
       "y": {"datum": 0.0016, "type": "quantitative", "title": null, "scale": {"domain": [-0.01435, 0.00448], "nice": false, "zero": false, "padding": 0},
             "axis": {"orient": "right", "values": [0.00448, 0, -0.01435], "labelExpr": "datum.value > 0.001 ? '0.00448' : (datum.value < -0.001 ? '-0.01435' : '0.00')", "labelBaseline": {"condition": {"test": "datum.value > 0.001", "value": "top"}, "value": "bottom"}, "labelOverlap": false, "grid": false, "domain": false, "tickSize": 3, "tickColor": "#000000", "labelPadding": 1, "labelFont": "Liberation Sans", "labelFontSize": 9, "labelColor": "#000000", "title": null}},
       "text": {"field": "t"}}},
    {"data": {"values": [{"t": "note"}]}, "mark": {"type": "text", "color": "#E0202C", "fontWeight": "bold", "fontSize": 13.5, "align": "left", "baseline": "alphabetic", "lineHeight": 15.5},
     "encoding": {
       "x": {"datum": 155.75, "type": "quantitative", "title": null, "scale": {"domain": [0, 172.5], "nice": false, "zero": false, "padding": 0},
             "axis": {"values": [0,8,16,24,32,40,48,56,64,72,80,88,96,104,112,120,128,136,144,152,160,168], "grid": true, "gridColor": "#FFFFFF", "gridDash": [3, 3], "labels": false, "ticks": false, "domain": false, "minExtent": 0, "maxExtent": 0, "title": null}},
       "y": {"datum": -0.00065, "type": "quantitative", "title": null, "scale": {"domain": [-0.01435, 0.00448], "nice": false, "zero": false, "padding": 0},
             "axis": {"orient": "right", "values": [0.00448, 0, -0.01435], "labelExpr": "datum.value > 0.001 ? '0.00448' : (datum.value < -0.001 ? '-0.01435' : '0.00')", "labelBaseline": {"condition": {"test": "datum.value > 0.001", "value": "top"}, "value": "bottom"}, "labelOverlap": false, "grid": false, "domain": false, "tickSize": 3, "tickColor": "#000000", "labelPadding": 1, "labelFont": "Liberation Sans", "labelFontSize": 9, "labelColor": "#000000", "title": null}},
       "text": {"value": ["ниже", "нулевого", "уровня"]}}}
  ]
},
{
  "width": 690, "height": 50,
  "layer": [
    {"data": {"name": "d"}, "mark": {"type": "line", "color": "#0A0AC8", "strokeWidth": 2},
     "encoding": {
       "x": {"field": "i", "type": "quantitative", "title": null, "scale": {"domain": [0, 172.5], "nice": false, "zero": false, "padding": 0},
             "axis": {"values": [0,8,16,24,32,40,48,56,64,72,80,88,96,104,112,120,128,136,144,152,160,168], "grid": true, "gridColor": "#FFFFFF", "gridDash": [3, 3], "ticks": false, "domain": false, "labelAlign": "left", "labelBaseline": "top", "labelPadding": 6, "labelOverlap": false, "labelBound": false, "labelFlush": false, "labelFont": "Liberation Sans", "labelFontSize": 9.5, "labelColor": "#000000", "title": null,
                      "labelExpr": "datum.value % 16 === 0 && datum.value <= 144 ? ['20 Oct 2015','23 Oct 08:00','28 Oct 00:00','30 Oct 16:00','4 Nov 08:00','9 Nov 00:00','11 Nov 16:00','16 Nov 08:00','19 Nov 00:00','23 Nov 16:00'][datum.value / 16] : ''"}},
       "y": {"field": "force", "type": "quantitative", "title": null, "scale": {"domain": [-55.0007, 18.9009], "nice": false, "zero": false, "padding": 0},
             "axis": {"orient": "right", "values": [18.9009, 0, -55.0007], "labelExpr": "datum.value > 1 ? '18.9009' : (datum.value < -1 ? '-55.0007' : '0.00')", "labelBaseline": {"condition": {"test": "datum.value > 1", "value": "top"}, "value": "bottom"}, "labelOverlap": false, "grid": false, "domain": false, "tickSize": 3, "tickColor": "#000000", "labelPadding": 1, "labelFont": "Liberation Sans", "labelFontSize": 9, "labelColor": "#000000", "title": null}}}},
    {"data": {"values": [{"t": "level"}]}, "mark": {"type": "rule", "color": "#F2F26A", "strokeWidth": 5, "strokeCap": "butt"},
     "encoding": {
       "x": {"datum": 0, "type": "quantitative", "title": null, "scale": {"domain": [0, 172.5], "nice": false, "zero": false, "padding": 0},
             "axis": {"values": [0,8,16,24,32,40,48,56,64,72,80,88,96,104,112,120,128,136,144,152,160,168], "grid": true, "gridColor": "#FFFFFF", "gridDash": [3, 3], "ticks": false, "domain": false, "labelAlign": "left", "labelBaseline": "top", "labelPadding": 6, "labelOverlap": false, "labelBound": false, "labelFlush": false, "labelFont": "Liberation Sans", "labelFontSize": 9.5, "labelColor": "#000000", "title": null,
                      "labelExpr": "datum.value % 16 === 0 && datum.value <= 144 ? ['20 Oct 2015','23 Oct 08:00','28 Oct 00:00','30 Oct 16:00','4 Nov 08:00','9 Nov 00:00','11 Nov 16:00','16 Nov 08:00','19 Nov 00:00','23 Nov 16:00'][datum.value / 16] : ''"}},
       "x2": {"datum": 175},
       "y": {"datum": 0, "type": "quantitative", "title": null, "scale": {"domain": [-55.0007, 18.9009], "nice": false, "zero": false, "padding": 0},
             "axis": {"orient": "right", "values": [18.9009, 0, -55.0007], "labelExpr": "datum.value > 1 ? '18.9009' : (datum.value < -1 ? '-55.0007' : '0.00')", "labelBaseline": {"condition": {"test": "datum.value > 1", "value": "top"}, "value": "bottom"}, "labelOverlap": false, "grid": false, "domain": false, "tickSize": 3, "tickColor": "#000000", "labelPadding": 1, "labelFont": "Liberation Sans", "labelFontSize": 9, "labelColor": "#000000", "title": null}}}},
    {"data": {"values": [{"t": "Force(13) -5.1526"}]}, "mark": {"type": "text", "color": "#000000", "fontSize": 9.5, "align": "left", "baseline": "middle"},
     "encoding": {
       "x": {"datum": 1, "type": "quantitative", "title": null, "scale": {"domain": [0, 172.5], "nice": false, "zero": false, "padding": 0},
             "axis": {"values": [0,8,16,24,32,40,48,56,64,72,80,88,96,104,112,120,128,136,144,152,160,168], "grid": true, "gridColor": "#FFFFFF", "gridDash": [3, 3], "ticks": false, "domain": false, "labelAlign": "left", "labelBaseline": "top", "labelPadding": 6, "labelOverlap": false, "labelBound": false, "labelFlush": false, "labelFont": "Liberation Sans", "labelFontSize": 9.5, "labelColor": "#000000", "title": null,
                      "labelExpr": "datum.value % 16 === 0 && datum.value <= 144 ? ['20 Oct 2015','23 Oct 08:00','28 Oct 00:00','30 Oct 16:00','4 Nov 08:00','9 Nov 00:00','11 Nov 16:00','16 Nov 08:00','19 Nov 00:00','23 Nov 16:00'][datum.value / 16] : ''"}},
       "y": {"datum": 7.1, "type": "quantitative", "title": null, "scale": {"domain": [-55.0007, 18.9009], "nice": false, "zero": false, "padding": 0},
             "axis": {"orient": "right", "values": [18.9009, 0, -55.0007], "labelExpr": "datum.value > 1 ? '18.9009' : (datum.value < -1 ? '-55.0007' : '0.00')", "labelBaseline": {"condition": {"test": "datum.value > 1", "value": "top"}, "value": "bottom"}, "labelOverlap": false, "grid": false, "domain": false, "tickSize": 3, "tickColor": "#000000", "labelPadding": 1, "labelFont": "Liberation Sans", "labelFontSize": 9, "labelColor": "#000000", "title": null}},
       "text": {"field": "t"}}},
    {"data": {"values": [{"t": "note"}]}, "mark": {"type": "text", "color": "#E0202C", "fontWeight": "bold", "fontSize": 13.5, "align": "left", "baseline": "alphabetic", "lineHeight": 15},
     "encoding": {
       "x": {"datum": 156.25, "type": "quantitative", "title": null, "scale": {"domain": [0, 172.5], "nice": false, "zero": false, "padding": 0},
             "axis": {"values": [0,8,16,24,32,40,48,56,64,72,80,88,96,104,112,120,128,136,144,152,160,168], "grid": true, "gridColor": "#FFFFFF", "gridDash": [3, 3], "ticks": false, "domain": false, "labelAlign": "left", "labelBaseline": "top", "labelPadding": 6, "labelOverlap": false, "labelBound": false, "labelFlush": false, "labelFont": "Liberation Sans", "labelFontSize": 9.5, "labelColor": "#000000", "title": null,
                      "labelExpr": "datum.value % 16 === 0 && datum.value <= 144 ? ['20 Oct 2015','23 Oct 08:00','28 Oct 00:00','30 Oct 16:00','4 Nov 08:00','9 Nov 00:00','11 Nov 16:00','16 Nov 08:00','19 Nov 00:00','23 Nov 16:00'][datum.value / 16] : ''"}},
       "y": {"datum": -1.8, "type": "quantitative", "title": null, "scale": {"domain": [-55.0007, 18.9009], "nice": false, "zero": false, "padding": 0},
             "axis": {"orient": "right", "values": [18.9009, 0, -55.0007], "labelExpr": "datum.value > 1 ? '18.9009' : (datum.value < -1 ? '-55.0007' : '0.00')", "labelBaseline": {"condition": {"test": "datum.value > 1", "value": "top"}, "value": "bottom"}, "labelOverlap": false, "grid": false, "domain": false, "tickSize": 3, "tickColor": "#000000", "labelPadding": 1, "labelFont": "Liberation Sans", "labelFontSize": 9, "labelColor": "#000000", "title": null}},
       "text": {"value": ["ниже", "нулевого", "уровня"]}}}
  ]
}
]
}
